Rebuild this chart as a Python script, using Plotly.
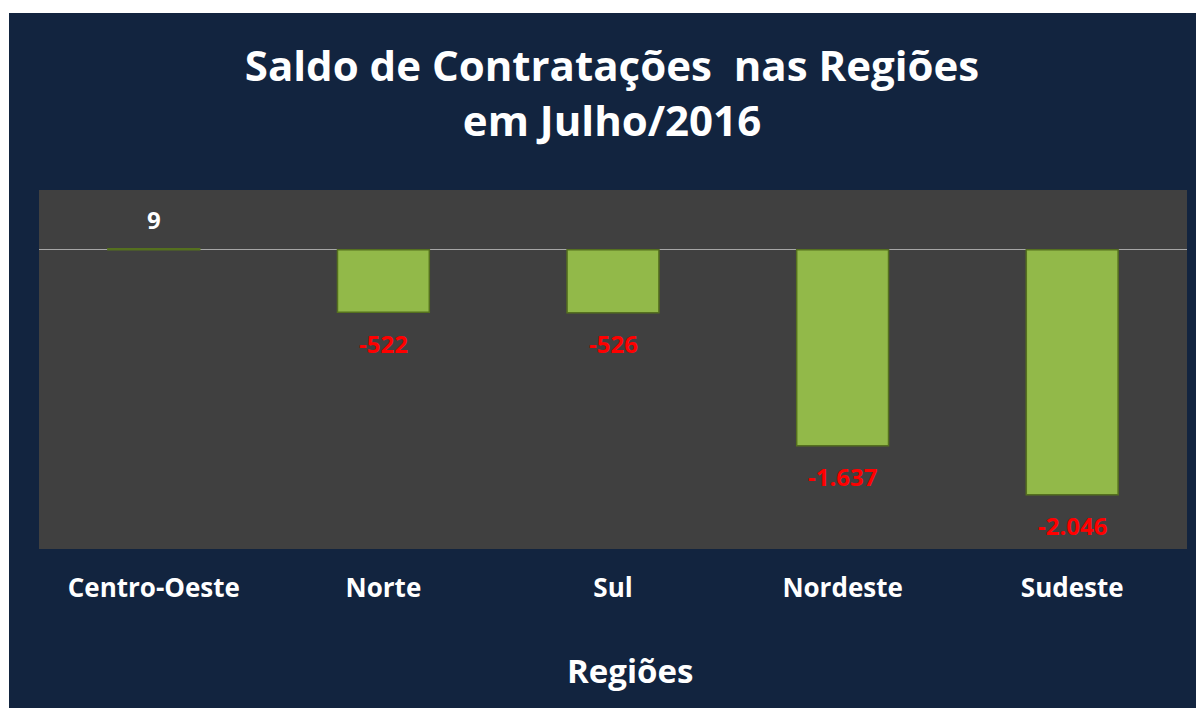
import plotly.graph_objects as go

categories = ["Centro-Oeste", "Norte", "Sul", "Nordeste", "Sudeste"]
values = [9, -522, -526, -1637, -2046]
labels = ["9", "-522", "-526", "-1.637", "-2.046"]

NAVY = "#12243f"
PLOT_BG = "#404040"
FONT = "Open Sans"

# page body has an 8px margin: work in screen pixels, convert to figure pixels
OFF = 8
W, H = 1204 - OFF, 708 - OFF
L = 39 - OFF
T = 190 - OFF
R = W - (1187 - OFF)
B = H - (549 - OFF)
pw, ph = W - L - R, H - T - B

def px_x(sx):
    return (sx - OFF - L) / pw

def px_y(sy):
    return (H - B - (sy - OFF)) / ph

fig = go.Figure()
fig.add_trace(go.Bar(
    x=categories, y=values,
    width=0.4,
    marker=dict(color="#92b949", line=dict(color="#55701f", width=1.5)),
    hoverinfo="x+y",
))

for c, v, t in zip(categories, values, labels):
    fig.add_annotation(
        x=c, y=v, text=t, showarrow=False,
        yshift=29 if v >= 0 else -31,
        font=dict(family=FONT, size=24, weight="bold",
                  color="white" if v >= 0 else "#ff0000"),
    )

# white outer margin strips (top and left)
fig.add_shape(type="rect", xref="paper", yref="paper",
              x0=px_x(0), x1=px_x(9), y0=px_y(0), y1=px_y(H + 20),
              fillcolor="white", line=dict(width=0), layer="below")
fig.add_shape(type="rect", xref="paper", yref="paper",
              x0=px_x(0), x1=px_x(1210), y0=px_y(13), y1=px_y(0),
              fillcolor="white", line=dict(width=0), layer="below")

fig.add_annotation(
    xref="paper", yref="paper", x=px_x(630), y=px_y(670),
    text="Regiões", showarrow=False, yanchor="middle",
    font=dict(family=FONT, size=33, weight="bold", color="white"),
)

fig.update_layout(
    width=W, height=H,
    margin=dict(l=L, r=R, t=T, b=B, pad=0),
    paper_bgcolor=NAVY, plot_bgcolor=PLOT_BG,
    showlegend=False,
    title=dict(
        text="Saldo de Contratações  nas Regiões<br>em Julho/2016",
        x=(612 - OFF) / W, xanchor="center", xref="container",
        y=1 - (81 - OFF) / H, yanchor="middle", yref="container",
        font=dict(family=FONT, size=42, weight="bold", color="white"),
    ),
    xaxis=dict(
        showgrid=False, zeroline=False, showline=False,
        tickfont=dict(family=FONT, size=26, weight="bold", color="white"),
        ticks="", ticklabelstandoff=21,
    ),
    yaxis=dict(
        range=[-2500, 500], showgrid=False, showticklabels=False,
        zeroline=True, zerolinecolor="#a6a6a6", zerolinewidth=1.2,
        showline=False, ticks="",
    ),
)

fig.write_html("out.html")
